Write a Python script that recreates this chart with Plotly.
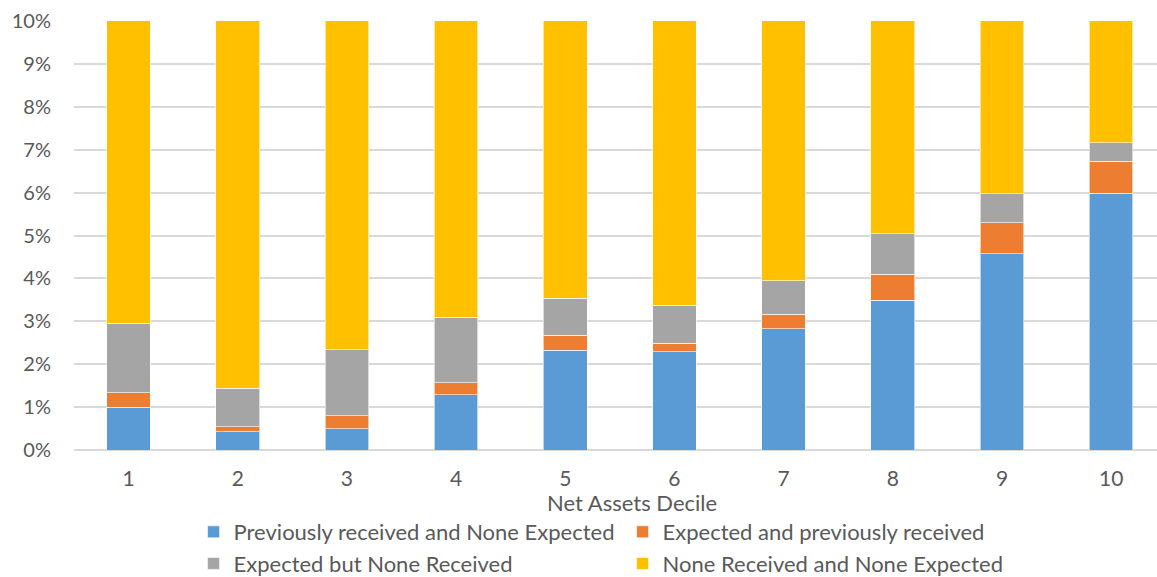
import plotly.graph_objects as go

deciles = ["1", "2", "3", "4", "5", "6", "7", "8", "9", "10"]
prev_none_expected = [1.00, 0.43, 0.50, 1.29, 2.32, 2.29, 2.83, 3.49, 4.58, 5.98]
expected_prev = [0.34, 0.11, 0.30, 0.28, 0.36, 0.20, 0.34, 0.61, 0.72, 0.75]
expected_none = [1.62, 0.90, 1.54, 1.52, 0.86, 0.89, 0.78, 0.94, 0.67, 0.43]
none_none = [100 - a - b - c for a, b, c in zip(prev_none_expected, expected_prev, expected_none)]

series = [
    ("Previously received and None Expected", prev_none_expected, "#5B9BD5"),
    ("Expected and previously received", expected_prev, "#ED7D31"),
    ("Expected but None Received", expected_none, "#A5A5A5"),
    ("None Received and None Expected", none_none, "#FFC000"),
]

fig = go.Figure()
for name, vals, col in series:
    fig.add_trace(go.Bar(
        x=deciles, y=vals, name=name,
        marker=dict(color=col, line=dict(color="rgba(255,255,255,0.6)", width=1)),
    ))

font = "Lato, 'Noto Sans', sans-serif"
H = 590
plot_h = 429
fig.update_layout(
    barmode="stack",
    bargap=0.6,
    width=1157, height=H,
    margin=dict(l=74, r=0, t=21, b=H - 21 - plot_h),
    plot_bgcolor="white", paper_bgcolor="white",
    font=dict(family=font, color="#595959", size=21),
    showlegend=True,
    legend=dict(
        orientation="h", x=0.1104, xanchor="left", y=-(585 - 450) / plot_h, yanchor="bottom",
        entrywidth=384, entrywidthmode="pixels",
        font=dict(size=22, color="#595959"),
        itemwidth=30, tracegroupgap=0, traceorder="normal",
    ),
    xaxis=dict(
        type="category", range=[-0.5, 9.42], automargin=False,
        showgrid=False, showline=False, zeroline=False,
        tickfont=dict(size=21, color="#595959"),
        ticks="", ticklabelstandoff=14,
    ),
    yaxis=dict(
        range=[0, 10], dtick=1, ticksuffix="%", automargin=False,
        showgrid=True, gridcolor="#D9D9D9", gridwidth=1.5,
        zeroline=True, zerolinecolor="#D9D9D9", zerolinewidth=1.5,
        tickfont=dict(size=20, color="#595959"),
        ticklabelstandoff=22,
    ),
    annotations=[dict(
        text="Net Assets Decile", xref="paper", yref="paper",
        x=(632 - 74) / 1083, y=-(503 - 450) / plot_h, xanchor="center", yanchor="middle",
        showarrow=False, font=dict(size=22, color="#595959"),
    )],
)

fig.write_html(
    "out.html",
    config={"displayModeBar": False},
    post_script="document.body.style.margin='0';document.body.style.overflow='hidden';document.documentElement.style.overflow='hidden';",
)
